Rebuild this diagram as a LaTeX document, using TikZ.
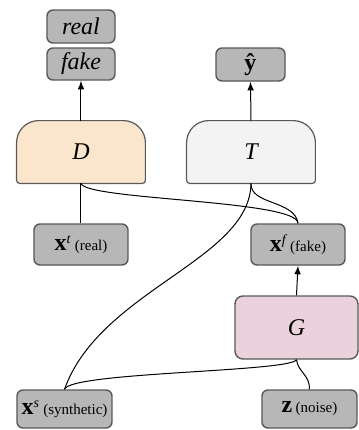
\documentclass[tikz,border=0pt]{standalone}
\usepackage{fontspec}
\setmainfont{Liberation Serif}
\usepackage{tikz}
\usetikzlibrary{arrows}

\definecolor{boxgray}{HTML}{B7B7B7}
\definecolor{boxline}{HTML}{595959}
\definecolor{dcolor}{HTML}{FCE5CD}
\definecolor{tcolor}{HTML}{F3F3F3}
\definecolor{gcolor}{HTML}{EAD1DC}

\tikzset{
  databox/.style={draw=boxline, fill=boxgray, line width=0.7pt, rounded corners=3pt, inner sep=0pt},
  netbox/.style={inner sep=0pt, minimum width=64pt, minimum height=31pt},
  netlabel/.style={font=\fontsize{12}{12}\selectfont\itshape},
  link/.style={line width=0.5pt},
}

% bold x with a small note
\newcommand{\datalabel}[2]{{\fontsize{12}{12}\selectfont\textbf{#1}}#2}
\newcommand{\note}[1]{\,{\fontsize{7.5}{7.5}\selectfont(#1)}}

% gate shape: big round top, small round bottom
\newcommand{\gatepath}[2]{%
  \draw[draw=boxline, line width=0.6pt, fill=#2]
    ([yshift=1.5pt]#1.south west) -- ([yshift=-11pt]#1.north west)
    arc[start angle=180, end angle=90, radius=11pt] -- ([xshift=-11pt]#1.north east)
    arc[start angle=90, end angle=0, radius=11pt] -- ([yshift=1.5pt]#1.south east)
    arc[start angle=0, end angle=-90, radius=1.5pt] -- ([xshift=1.5pt]#1.south west)
    arc[start angle=270, end angle=180, radius=1.5pt] -- cycle;}

\begin{document}
\begin{tikzpicture}[x=0.5pt, y=-0.5pt]
        \useasboundingbox (0, 0) rectangle (359, 430);

        % outputs
        \node[databox, netlabel, minimum width=34pt, minimum height=16.5pt] (real) at (81, 26.5) {real};
        \node[databox, netlabel, minimum width=34pt, minimum height=16pt] (fake) at (81, 64) {fake};
        \node[databox, minimum width=34.5pt, minimum height=16.5pt, font=\bfseries\fontsize{12}{12}\selectfont] (yhat) at (250.5, 64.5) {\^{y}};

        % networks
        \node[netbox] (D) at (81, 152) {};
        \gatepath{D}{dcolor}
        \node[netlabel] at (D) {D};
        \node[netbox] (T) at (251, 152) {};
        \gatepath{T}{tcolor}
        \node[netlabel] at (T) {T};
        \node[databox, netlabel, fill=gcolor, minimum width=61.5pt, minimum height=31.5pt, rounded corners=4pt] (G) at (296.5, 327.5) {G};

        % data
        \node[databox, minimum width=47pt, minimum height=20.5pt] (xt) at (81, 244.5) {\datalabel{x}{\textsuperscript{\itshape t}}\note{real}};
        \node[databox, minimum width=47pt, minimum height=20.5pt] (xf) at (298, 244.5) {\datalabel{x}{\textsuperscript{\itshape f}}\note{fake}};
        \node[databox, minimum width=47.5pt, minimum height=19pt] (xs) at (64.5, 409) {\datalabel{x}{\textsuperscript{\itshape s}}\note{synthetic}};
        \node[databox, minimum width=47.5pt, minimum height=19pt] (z) at (309.5, 409) {\datalabel{z}{}\note{noise}};

        % arrows
        \draw[link, -latex] (D.north) -- (fake.south);
        \draw[link, -latex] (T.north) -- (yhat.south);
        \draw[link, -latex] (G.north) -- (xf.south);

        % connectors
        \draw[link] (D.south) -- (xt.north);
        \draw[link] (D.south) .. controls (85, 200) and (298, 200) .. (xf.north);
        \draw[link] (T.south) .. controls (250, 205) and (295, 200) .. (xf.north);
        \draw[link] (T.south) .. controls (250, 260) and (100, 290) .. (xs.north);
        \draw[link] (G.south) .. controls (290, 372) and (70, 372) .. (xs.north);
        \draw[link] (G.south) .. controls (298, 372) and (310, 375) .. (z.north);
    \end{tikzpicture}
\end{document}
